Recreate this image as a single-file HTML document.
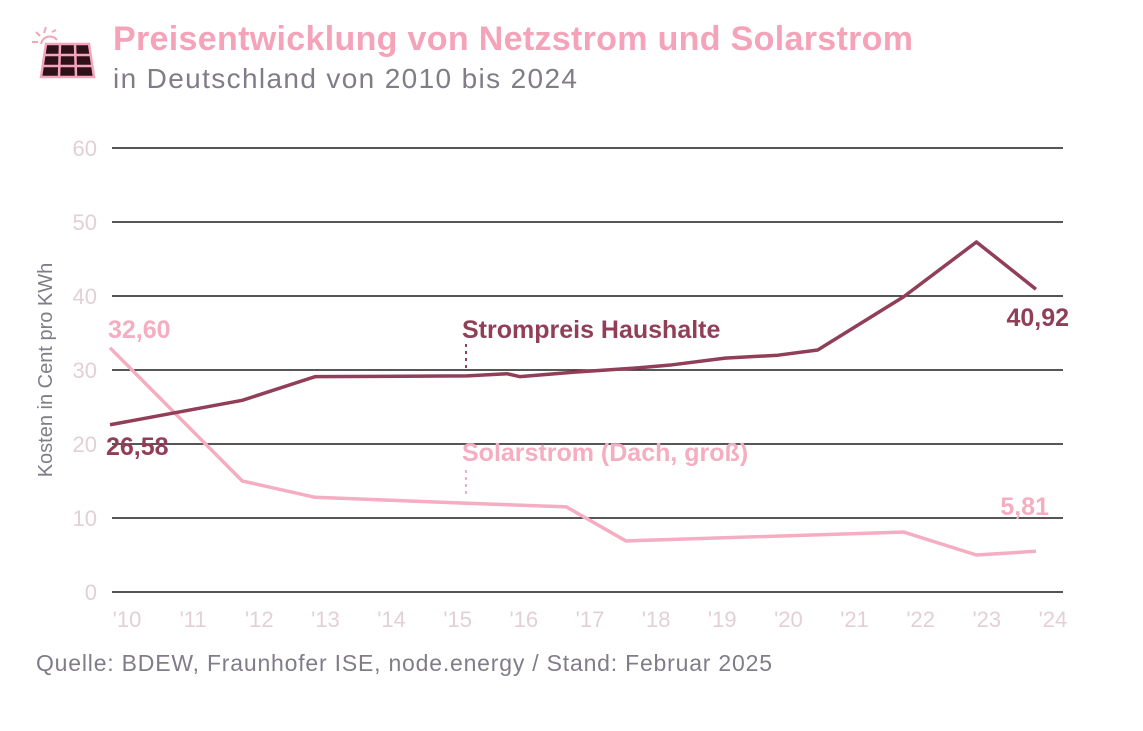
<!DOCTYPE html>
<html><head><meta charset="utf-8"><style>
body{margin:0;background:#fff;width:1143px;height:726px;overflow:hidden;font-family:"Liberation Sans",sans-serif}
</style></head><body>
<svg width="1143" height="726">
<g>
<g stroke="#f5a5bb" stroke-width="2"><line x1="46" y1="27" x2="44" y2="33"/><line x1="36" y1="32" x2="40" y2="36"/><line x1="32" y1="42" x2="38" y2="42"/><line x1="52" y1="32" x2="56" y2="30"/><path d="M41 44 A9 9 0 0 1 57 40" fill="none"/></g>
<path d="M46 44 L89 44 L94 77 L41 77 Z" fill="#2e1119" stroke="#f5a5bb" stroke-width="2.5"/>
<g stroke="#f5a5bb" stroke-width="2.5"><line x1="44" y1="55" x2="91" y2="55"/><line x1="43" y1="66" x2="93" y2="66"/><line x1="60" y1="44" x2="59" y2="77"/><line x1="75" y1="44" x2="76" y2="77"/></g>
</g>
<text x="113" y="50" font-size="34" font-weight="bold" fill="#f5a3b9" textLength="800">Preisentwicklung von Netzstrom und Solarstrom</text>
<text x="113" y="88" font-size="28" fill="#807c88" textLength="464">in Deutschland von 2010 bis 2024</text>
<text transform="translate(52,370) rotate(-90)" text-anchor="middle" font-size="20" fill="#807c88">Kosten in Cent pro KWh</text>
<g id="grid"></g><g id="lines"></g><g id="labels"></g>
<text x="36" y="671" font-size="23" fill="#807c88" textLength="736">Quelle: BDEW, Fraunhofer ISE, node.energy  /  Stand: Februar 2025</text>
</svg>
<script>
const yTicks=[0,10,20,30,40,50,60];
const xTickLabels=["'10","'11","'12","'13","'14","'15","'16","'17","'18","'19","'20","'21","'22","'23","'24"];
const stromX=[2010,2012,2013.1,2015.4,2016.0,2016.2,2017.0,2018.0,2018.5,2019.3,2020.1,2020.7,2022.0,2023.1,2024];
const stromY=[22.6,25.9,29.1,29.2,29.5,29.1,29.7,30.3,30.7,31.6,32.0,32.7,39.9,47.3,40.92];
const solarX=[2010,2012,2013.1,2015.4,2016.9,2017.8,2022.0,2023.1,2024];
const solarY=[33.0,15.0,12.8,12.0,11.5,6.9,8.1,5.0,5.5];
const ns="http://www.w3.org/2000/svg";
const x=t=>110+(t-2010)*66.14;
const y=v=>592-v*7.4;
function mk(tag,attrs,parent,txt){const e=document.createElementNS(ns,tag);for(const k in attrs)e.setAttribute(k,attrs[k]);if(txt!==undefined)e.textContent=txt;parent.appendChild(e);return e;}
const grid=document.getElementById('grid'),lines=document.getElementById('lines'),labels=document.getElementById('labels');
yTicks.forEach(v=>{
 const l=mk('line',{x1:112,x2:1063,y1:y(v),y2:y(v),stroke:'#1e1e1e','stroke-width':1.6},grid);
 
 
 const t=mk('text',{x:97,y:y(v)+8,'text-anchor':'end','font-size':22,fill:'#e3d0d6'},grid,String(v));
 
 
});
xTickLabels.forEach((s,i)=>{
 const t=mk('text',{x:x(2010+i)+17,y:627,'text-anchor':'middle','font-size':22,fill:'#e3d0d6'},grid,s);
 
 
});
function pl(xs,ys,c,name){const p=mk('polyline',{points:xs.map((t,i)=>x(t)+','+y(ys[i])).join(' '),fill:'none',stroke:c,'stroke-width':3.5,'stroke-linejoin':'round'},lines);
 
 }
pl(solarX,solarY,'#f5adc1','solar-line');
pl(stromX,stromY,'#913f58','strompreis-line');
function lab(tx,ty,s,c,name,anchor){const t=mk('text',{x:tx,y:ty,'font-size':25,'font-weight':'bold',fill:c,'text-anchor':anchor||'start'},labels,s);
 
 }
lab(108,338,'32,60','#f5adc1','solar-start-value');
lab(106,455,'26,58','#913f58','strom-start-value');
lab(1069,326,'40,92','#913f58','strom-end-value','end');
lab(1049,515,'5,81','#f5adc1','solar-end-value','end');
lab(462,338,'Strompreis Haushalte','#913f58','strom-series-label');
lab(462,461,'Solarstrom (Dach, groß)','#f5adc1','solar-series-label');
mk('line',{x1:466,x2:466,y1:344,y2:369,stroke:'#913f58','stroke-width':2,'stroke-dasharray':'3,4'},labels);
mk('line',{x1:466,x2:466,y1:470,y2:497,stroke:'#f5adc1','stroke-width':2,'stroke-dasharray':'3,4'},labels);
</script>
</body></html>
